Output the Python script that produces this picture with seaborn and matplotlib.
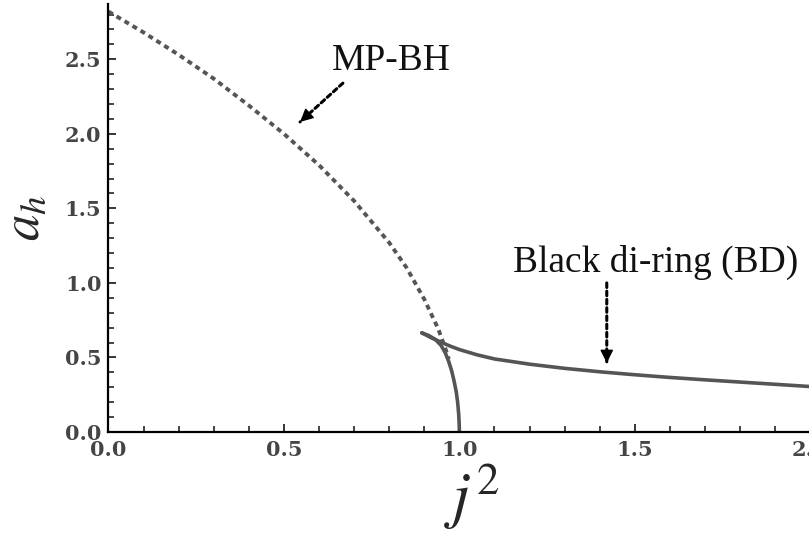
import numpy as np
import pandas as pd
import matplotlib
matplotlib.use('Agg')
import matplotlib.pyplot as plt
import seaborn as sns

# MP-BH branch (dotted)
mp_j2 = [0.0, 0.1, 0.2, 0.3, 0.4, 0.5, 0.6, 0.7, 0.75, 0.8, 0.85, 0.9, 0.92, 0.94, 0.96, 0.97]
mp_ah = [2.82, 2.68, 2.53, 2.37, 2.19, 2.0, 1.79, 1.55, 1.41, 1.27, 1.10, 0.89, 0.79, 0.69, 0.56, 0.49]

# black di-ring, thin branch (from j^2=1 up to the cusp)
bd_lo_j2 = [1.0, 0.9995, 0.998, 0.995, 0.991, 0.985, 0.978, 0.97, 0.96, 0.948, 0.932, 0.912, 0.893]
bd_lo_ah = [0.0, 0.05, 0.12, 0.2, 0.27, 0.34, 0.41, 0.47, 0.53, 0.58, 0.62, 0.648, 0.665]

# black di-ring, fat branch (from the cusp to the right)
bd_hi_j2 = [0.893, 0.92, 0.95, 0.975, 1.0, 1.05, 1.1, 1.2, 1.3, 1.4, 1.5, 1.6, 1.7, 1.8, 1.9, 2.0, 2.05]
bd_hi_ah = [0.665, 0.632, 0.60, 0.575, 0.553, 0.518, 0.49, 0.455, 0.427, 0.404, 0.384, 0.366, 0.35, 0.335, 0.32, 0.305, 0.298]

x_major = [0.0, 0.5, 1.0, 1.5, 2.0]
y_major = [0.0, 0.5, 1.0, 1.5, 2.0, 2.5]

sns.set_style('ticks')
plt.rcParams['mathtext.fontset'] = 'stix'

fig = plt.figure(figsize=(8.09, 5.43), dpi=100)
ax = fig.add_axes([0.1341, 0.2044, 0.8675, 0.788])

line_col = '#555555'
sns.lineplot(x=mp_j2, y=mp_ah, sort=False, estimator=None, ax=ax,
             color=line_col, lw=2.8, linestyle=(0, (1.3, 1.1)))
sns.lineplot(x=bd_lo_j2, y=bd_lo_ah, sort=False, estimator=None, ax=ax,
             color=line_col, lw=2.6)
sns.lineplot(x=bd_hi_j2, y=bd_hi_ah, sort=False, estimator=None, ax=ax,
             color=line_col, lw=2.6)

ax.set_xlim(0, 2.0)
ax.set_ylim(0, 2.87)
ax.set_xticks(x_major)
ax.set_yticks(y_major)
ax.set_xticks(np.arange(0, 2.05, 0.1), minor=True)
ax.set_yticks(np.arange(0, 2.85, 0.1), minor=True)
ax.set_xticklabels([f'{v:.1f}' for v in x_major])
ax.set_yticklabels([f'{v:.1f}' for v in y_major])
ax.tick_params(which='major', direction='in', length=6, width=1.3,
               labelsize=15, labelcolor='#454545')
ax.tick_params(axis='y', which='major', pad=5)
ax.tick_params(axis='x', which='major', pad=6)
ax.tick_params(which='minor', direction='in', length=4.5, width=1.2)
for lab in ax.get_xticklabels() + ax.get_yticklabels():
    lab.set_family('DejaVu Serif')
    lab.set_weight('bold')

sns.despine(ax=ax)
for s in ['left', 'bottom']:
    ax.spines[s].set_linewidth(1.6)
    ax.spines[s].set_color('black')

ax.set_xlabel(r'$j^{2}$', fontsize=46)
ax.xaxis.set_label_coords(0.518, -0.068)
ax.xaxis.label.set_va('top')
ax.set_ylabel(r'$a_h$', fontsize=38)
ax.yaxis.set_label_coords(-0.083, 0.5)


def dotted_arrow(start, tip):
    # dotted shaft plus a solid head
    ax.annotate('', xy=tip, xytext=start,
                arrowprops=dict(arrowstyle='-', linestyle=(0, (1.5, 1.2)), lw=2.2,
                                color='black', shrinkA=0, shrinkB=0))
    d = np.array(tip) - np.array(start)
    ax.annotate('', xy=tip, xytext=tuple(np.array(tip) - 0.18 * d),
                arrowprops=dict(arrowstyle='-|>', lw=1, color='black',
                                shrinkA=0, shrinkB=0, mutation_scale=20))


ax.text(0.636, 2.43, 'MP-BH', fontsize=27, family='Liberation Serif',
        ha='left', va='baseline', color='#111111')
dotted_arrow((0.668, 2.34), (0.546, 2.08))

ax.text(1.152, 1.074, 'Black di-ring (BD)', fontsize=27, family='Liberation Serif',
        ha='left', va='baseline', color='#111111')
dotted_arrow((1.42, 1.0), (1.42, 0.463))

fig.savefig('out.png', dpi=100)
